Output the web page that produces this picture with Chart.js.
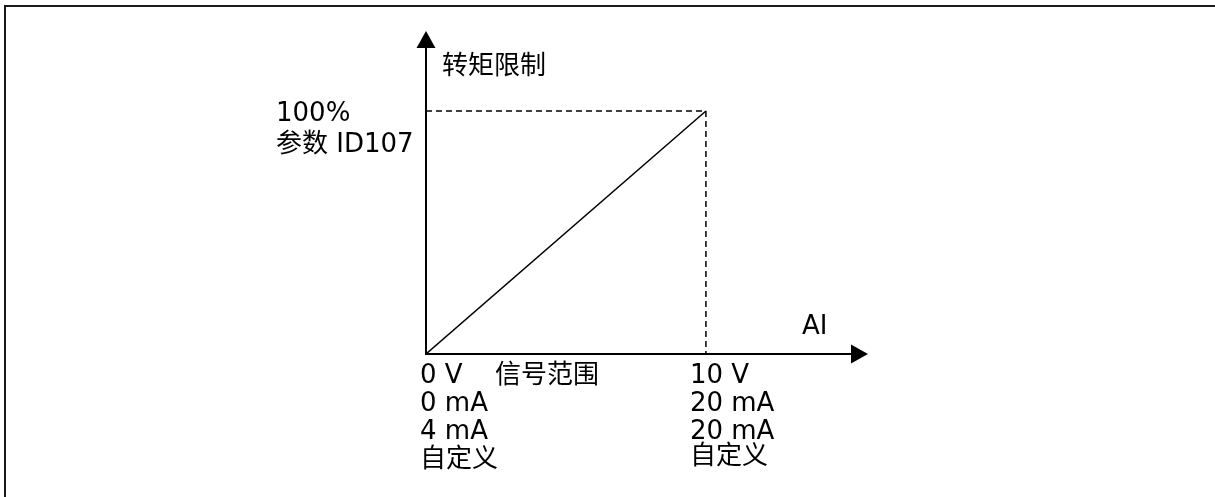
<!DOCTYPE html>
<html>
<head>
<meta charset="utf-8">
<script src="https://cdn.jsdelivr.net/npm/chart.js@4/dist/chart.umd.min.js"></script>
<style>
html,body{margin:0;padding:0;background:#fff;}
#wrap{position:relative;width:1215px;height:497px;}
</style>
</head>
<body>
<div id="wrap"><canvas id="c"></canvas></div>
<script>
// Data (AI signal in V on x, torque limit in % on y)
const signalRange = [0, 10];           // 0 V .. 10 V
const torquePercent = [0, 100];        // 0 % .. 100 %
const yAxisTitle = '转矩限制';
const xAxisTitle = 'AI';
const yTopLabels = ['100%', '参数 ID107'];
const xStartLabels = ['0 V', '0 mA', '4 mA', '自定义'];
const xEndLabels = ['10 V', '20 mA', '20 mA', '自定义'];
const rangeLabel = '信号范围';

const X_MAX = 15.79, Y_MAX = 132.9;
const FONT = '26px "DejaVu Sans", "Noto Sans CJK SC", sans-serif';

const linePts = signalRange.map((v, i) => ({x: v, y: torquePercent[i]}));
const dashPts = [
  {x: signalRange[0], y: torquePercent[1]},
  {x: signalRange[1], y: torquePercent[1]},
  {x: signalRange[1], y: torquePercent[0]}
];

const decor = {
  id: 'decor',
  beforeDraw(chart) {
    const ctx = chart.ctx;
    ctx.save();
    ctx.fillStyle = '#fff';
    ctx.fillRect(0, 0, chart.width, chart.height);
    ctx.strokeStyle = '#1a1a1a';
    ctx.lineWidth = 2;
    ctx.beginPath();
    ctx.moveTo(5, chart.height);
    ctx.lineTo(5, 6);
    ctx.lineTo(chart.width, 6);
    ctx.stroke();
    ctx.restore();
  },
  afterDatasetsDraw(chart) {
    const ctx = chart.ctx;
    const xs = chart.scales.x, ys = chart.scales.y;
    const x0 = xs.getPixelForValue(0), y0 = ys.getPixelForValue(0);
    const xEnd = xs.getPixelForValue(X_MAX), yEnd = ys.getPixelForValue(Y_MAX);
    ctx.save();
    ctx.strokeStyle = '#000';
    ctx.fillStyle = '#000';
    ctx.lineWidth = 2;
    // axes
    ctx.beginPath();
    ctx.moveTo(x0, yEnd + 14);
    ctx.lineTo(x0, y0);
    ctx.lineTo(xEnd - 14, y0);
    ctx.stroke();
    // arrowheads
    ctx.beginPath();
    ctx.moveTo(x0, yEnd);
    ctx.lineTo(x0 - 9.5, yEnd + 17);
    ctx.lineTo(x0 + 9.5, yEnd + 17);
    ctx.closePath();
    ctx.fill();
    ctx.beginPath();
    ctx.moveTo(xEnd, y0);
    ctx.lineTo(xEnd - 17, y0 - 9.5);
    ctx.lineTo(xEnd - 17, y0 + 9.5);
    ctx.closePath();
    ctx.fill();
    // texts
    ctx.font = FONT;
    ctx.textBaseline = 'middle';
    ctx.textAlign = 'left';
    ctx.fillText(yAxisTitle, x0 + 16, yEnd + 36);
    ctx.fillText(xAxisTitle, xs.getPixelForValue(13.43), y0 - 27);
    const y100 = ys.getPixelForValue(torquePercent[1]);
    yTopLabels.forEach((t, i) => ctx.fillText(t, 276, y100 + 3 + i * 31));
    const xa = xs.getPixelForValue(signalRange[0]) - 6;
    const xb = xs.getPixelForValue(signalRange[1]) - 16;
    const rowY = [22, 50, 78, 106];
    xStartLabels.forEach((t, i) => ctx.fillText(t, xa, y0 + rowY[i]));
    xEndLabels.forEach((t, i) => ctx.fillText(t, xb, y0 + rowY[i] - (i === 3 ? 3 : 0)));
    ctx.fillText(rangeLabel, 495, y0 + rowY[0]);
    ctx.restore();
  }
};

new Chart(document.getElementById('c'), {
  type: 'scatter',
  data: {
    datasets: [
      {data: linePts, showLine: true, borderColor: '#000', borderWidth: 1.5, pointRadius: 0, fill: false},
      {data: dashPts, showLine: true, borderColor: '#000', borderWidth: 1.5, borderDash: [6, 4], pointRadius: 0, fill: false}
    ]
  },
  options: {
    responsive: true,
    maintainAspectRatio: false,
    animation: false,
    events: [],
    layout: {padding: {left: 426, right: 347, top: 31, bottom: 143}},
    plugins: {legend: {display: false}, tooltip: {enabled: false}, title: {display: false}},
    scales: {
      x: {type: 'linear', min: 0, max: X_MAX, display: false},
      y: {type: 'linear', min: 0, max: Y_MAX, display: false}
    }
  },
  plugins: [decor]
});
</script>
</body>
</html>
